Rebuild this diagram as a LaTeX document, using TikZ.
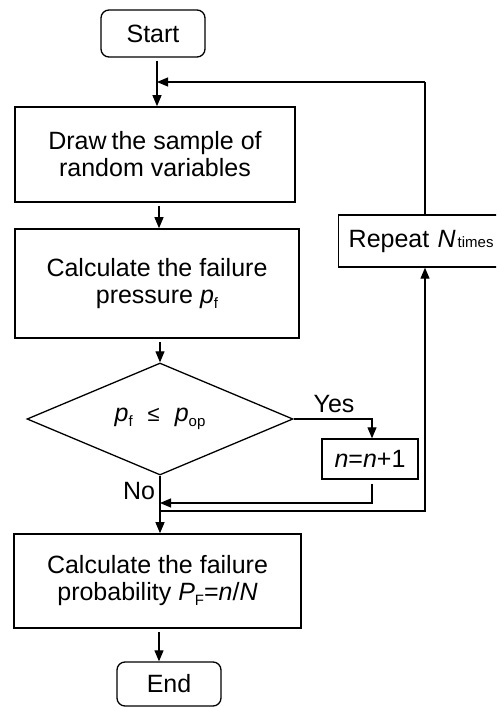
\documentclass[tikz,border=0pt]{standalone}
\usepackage{fontspec}
\setmainfont{Liberation Sans}
\usetikzlibrary{shapes.geometric,arrows.meta}
\newcommand\lsub[1]{\raisebox{-0.35ex}{\fontsize{15}{15}\selectfont #1}}
\newcommand\smalltxt[1]{{\fontsize{15}{15}\selectfont #1}}
\tikzset{
  box/.style={draw, line width=1.6pt, rectangle, inner sep=0pt, align=center},
  term/.style={draw, line width=1.3pt, rectangle, rounded corners=8pt, inner sep=0pt, align=center},
  arr/.style={line width=1.1pt, -{Triangle[length=11pt,width=9pt]}},
  ln/.style={line width=1.1pt},
  lbl/.style={inner sep=0pt}
}
\begin{document}
\begin{tikzpicture}[x=1pt,y=-1pt,font=\fontsize{25}{27}\selectfont]
\clip (0,0) rectangle (496,707);
\fill[white] (0,0) rectangle (496,707);
% nodes
\node[term, minimum width=104pt, minimum height=47pt] (start) at (153,33.5) {Start};
\node[box, minimum width=280pt, minimum height=95pt] (box1) at (155,154.5) {Draw\hspace{-2pt} the sample of\\random variables};
\node[box, minimum width=284pt, minimum height=109pt] (box2) at (157,283.5) {Calculate the failure\\pressure \textit{p}\lsub{f}};
\node[draw, line width=1.3pt, diamond, aspect=2.375, minimum width=266pt, minimum height=112pt, inner sep=0pt] (dia) at (160,419) {\textit{p}\lsub{f}\hspace{15pt}{\fontsize{22}{22}\selectfont ≤}\hspace{15pt}\textit{p}\lsub{op}};
\node[box, line width=1.4pt, minimum width=96pt, minimum height=40pt] (nbox) at (370,459) {\textit{n}=\textit{n}+1};
\node[box, line width=1.4pt, anchor=west, minimum width=190pt, minimum height=52pt, text width=170pt, align=left, inner xsep=10pt] (rep) at (338,241) {Repeat \textit{N}\hspace{2pt}\smalltxt{times}};
\node[box, minimum width=287pt, minimum height=94pt] (box3) at (157.5,581) {Calculate the failure\\probability \textit{P}\lsub{F}=\textit{n}/\textit{N}};
\node[term, minimum width=104pt, minimum height=44pt] (end) at (169,684) {End};
\node[lbl] (yes) at (334,404) {Yes};
\node[lbl] (no) at (139,491) {No};
% helper coordinates
\coordinate (s1) at (157,0);
\coordinate (s2) at (159,0);
\coordinate (fb) at (425,82);
\coordinate (ret) at (160,503);
\coordinate (lp) at (160,511);
% connectors
\draw[arr] ([yshift=-3pt]start.south -| s1) -- (box1.north -| s1);
\draw[ln] (rep.north -| fb) -- (fb);
\draw[arr] (fb) -- (fb -| s1);
\draw[arr] ([yshift=-3pt]box1.south -| s2) -- (box2.north -| s2);
\draw[arr] ([yshift=-3pt]box2.south -| dia.north) -- (dia.north);
\draw[arr] (dia.east) -| ([xshift=2pt]nbox.north);
\draw[arr] ([xshift=2pt,yshift=-4pt]nbox.south) |- (ret);
\draw[arr] (dia.south) -- (box3.north -| dia.south);
\draw[arr] (lp) -| (rep.south -| fb);
\draw[arr] ([yshift=-3pt]box3.south -| s2) -- (end.north -| s2);
\end{tikzpicture}
\end{document}
